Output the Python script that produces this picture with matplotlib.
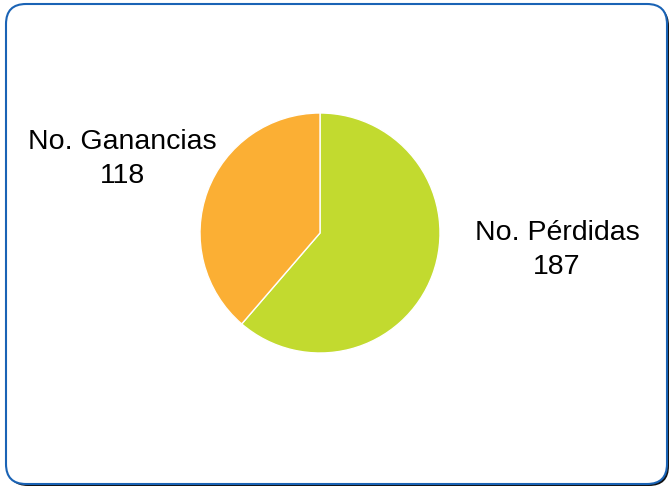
import matplotlib.pyplot as plt
from matplotlib.patches import FancyBboxPatch
from matplotlib.transforms import IdentityTransform

plt.rcParams['font.family'] = ['Liberation Sans', 'DejaVu Sans']

# datos
labels = ["No. Pérdidas", "No. Ganancias"]
values = [187, 118]
colors = ["#C2DA2F", "#FBAF34"]

fig = plt.figure(figsize=(6.69, 4.87), dpi=100)

# marco redondeado con sombra
shadow = FancyBboxPatch((8, 1), 661, 480, boxstyle="round,pad=0,rounding_size=20",
                        transform=IdentityTransform(), facecolor="#111111",
                        edgecolor="none", zorder=-2)
frame = FancyBboxPatch((6, 3), 661, 480, boxstyle="round,pad=0,rounding_size=20",
                       transform=IdentityTransform(), facecolor="white",
                       edgecolor="#1A63B5", linewidth=1.5, zorder=-1)
fig.patches.extend([shadow, frame])

ax = fig.add_axes([200 / 669, 134 / 487, 240 / 669, 240 / 487])
ax.pie(values, colors=colors, startangle=90, counterclock=False, radius=1,
       wedgeprops=dict(edgecolor="white", linewidth=1))
ax.set_xlim(-1, 1)
ax.set_ylim(-1, 1)
ax.set_aspect("equal")
ax.axis("off")

fig.text(122 / 669, 1 - 159 / 487, f"{labels[1]}\n{values[1]}", ha="center",
         va="center", fontsize=20.5, linespacing=1.38)
fig.text(557 / 669, 1 - 250 / 487, f"{labels[0]}\n{values[0]}", ha="center",
         va="center", fontsize=20.5, linespacing=1.38)

fig.savefig("out.png", dpi=100)
